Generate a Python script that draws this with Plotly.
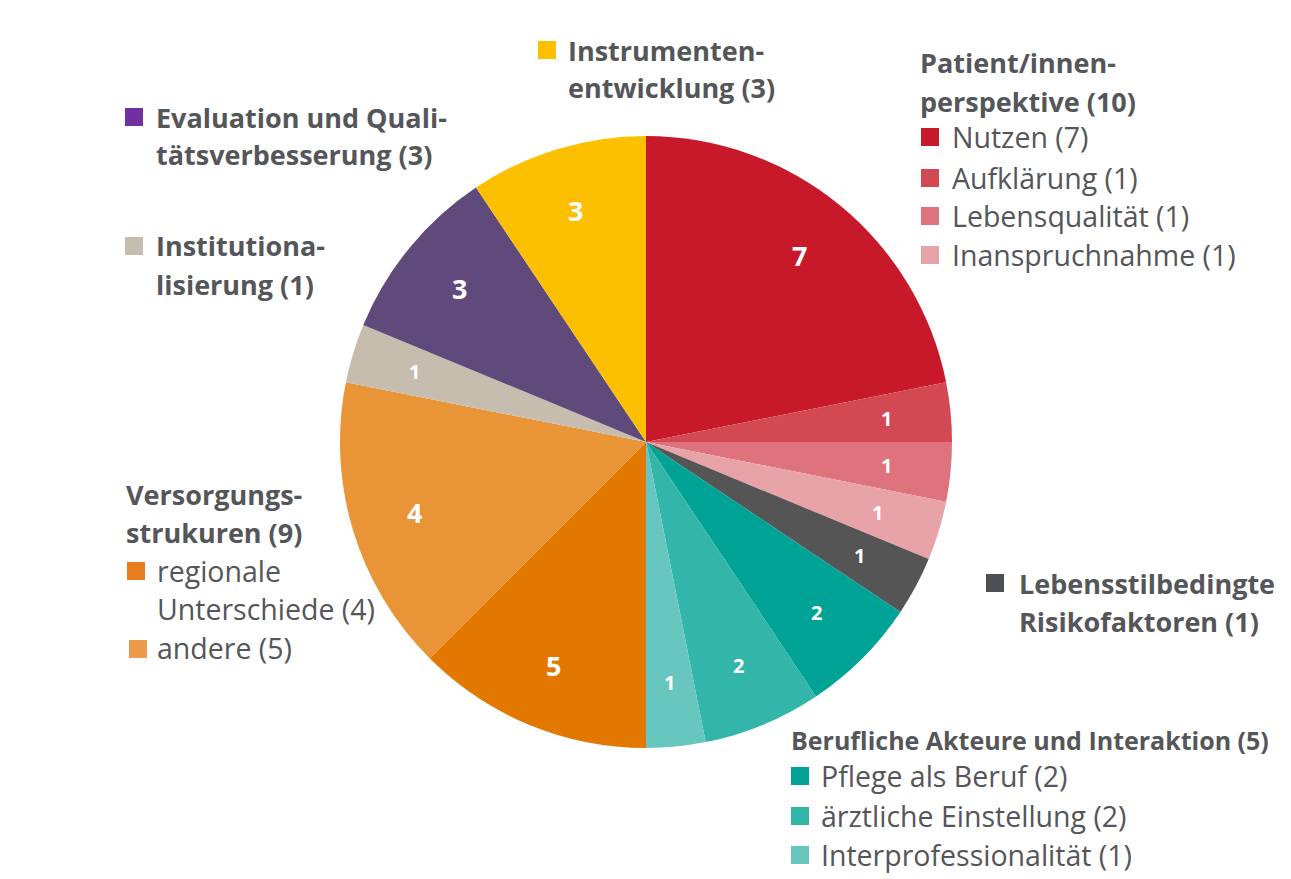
import math
import plotly.graph_objects as go

# ---------------- data ----------------
categories = ["Nutzen", "Aufklärung", "Lebensqualität", "Inanspruchnahme",
              "Lebensstilbedingte Risikofaktoren", "Pflege als Beruf",
              "ärztliche Einstellung", "Interprofessionalität",
              "regionale Unterschiede", "andere", "Institutionalisierung",
              "Evaluation und Qualitätsverbesserung", "Instrumentenentwicklung"]
values = [7, 1, 1, 1, 1, 2, 2, 1, 4, 5, 1, 3, 3]
slice_text = ["7", "1", "1", "1", "1", "2", "2", "1", "5", "4", "1", "3", "3"]
slice_colors = ["#C8192A", "#D24954", "#DE737E", "#E8A3A9", "#555555", "#00A396",
                "#33B5AA", "#67C6BD", "#E37800", "#E99437", "#C6BDAE", "#5F4A7B", "#FDC000"]

TXT = "#55565A"
FONT = "Open Sans"
BOLD_SIZE = 27
REG_SIZE = 28.5
W, H = 1291, 879
OFF = 8  # page body margin of the html page
CX, CY, R = 646, 442, 306


def xp(x):
    return (x - OFF) / W


def yp(y):
    return 1 - (y - OFF) / H


fig = go.Figure()
fig.add_trace(go.Pie(
    labels=categories, values=values,
    textinfo="none",
    marker=dict(colors=slice_colors, line=dict(width=0)),
    sort=False, direction="clockwise", rotation=0,
    showlegend=False, hoverinfo="label+value",
    domain=dict(x=[xp(CX - R), xp(CX + R)], y=[yp(CY + R), yp(CY - R)]),
))

annotations = []
shapes = []

# slice value labels, placed at the middle angle of each slice
total = sum(values)
cum = 0
for v, t in zip(values, slice_text):
    mid = (cum + v / 2) / total * 2 * math.pi
    cum += v
    rr = 0.79 * R
    lx = CX + rr * math.sin(mid)
    ly = CY - rr * math.cos(mid)
    annotations.append(dict(
        x=xp(lx), y=yp(ly), xref="paper", yref="paper", xanchor="center", yanchor="middle",
        text=f"<b>{t}</b>", showarrow=False,
        font=dict(family=FONT, size=20 if t in ("1", "2") else 27, color="white")))


def text(x, y, s, bold=False, size=None):
    if size is None:
        size = BOLD_SIZE if bold else REG_SIZE
    annotations.append(dict(
        x=xp(x), y=yp(y), xref="paper", yref="paper", xanchor="left", yanchor="middle",
        text=f"<b>{s}</b>" if bold else s, showarrow=False,
        font=dict(family=FONT, size=size, color=TXT)))


def square(x, y, color, s=18):
    shapes.append(dict(type="rect", xref="paper", yref="paper",
                       x0=xp(x), x1=xp(x + s), y0=yp(y + s / 2), y1=yp(y - s / 2),
                       fillcolor=color, line=dict(width=0)))


# Instrumentenentwicklung
square(538, 50, "#FDC000")
text(566, 50, "Instrumenten-", True)
text(566, 88, "entwicklung (3)", True)

# Patient/innen-perspektive
text(918, 62, "Patient/innen-", True)
text(918, 101, "perspektive (10)", True)
for yy, c, s in [(137, "#C8192A", "Nutzen (7)"), (178, "#D24954", "Aufklärung (1)"),
                 (216, "#DE737E", "Lebensqualität (1)"), (255, "#E8A3A9", "Inanspruchnahme (1)")]:
    square(921, yy, c)
    text(950, yy, s)

# Evaluation
square(125, 117, "#7030A0")
text(154, 117, "Evaluation und Quali-", True)
text(154, 154, "tätsverbesserung (3)", True)

# Institutionalisierung
square(125, 246, "#C6BDAE")
text(154, 246, "Institutiona-", True)
text(154, 285, "lisierung (1)", True)

# Versorgungsstrukturen
text(124, 494, "Versorgungs-", True)
text(124, 532, "strukuren (9)", True)
square(127, 571, "#E87D1E")
text(155, 571, "regionale")
text(155, 609, "Unterschiede (4)")
square(129, 649, "#EE9A4C")
text(155, 648, "andere (5)")

# Lebensstil
square(986, 583, "#4E4F54")
text(1017, 583, "Lebensstilbedingte", True)
text(1017, 621, "Risikofaktoren (1)", True)

# Berufliche Akteure
text(789, 740, "Berufliche Akteure und Interaktion (5)", True, size=25)
for yy, c, s in [(776, "#00A396", "Pflege als Beruf (2)"), (816, "#33B5AA", "ärztliche Einstellung (2)"),
                 (855, "#67C6BD", "Interprofessionalität (1)")]:
    square(791, yy, c)
    text(819, yy, s)

fig.update_layout(
    width=W, height=H, margin=dict(l=0, r=0, t=0, b=0),
    paper_bgcolor="white", plot_bgcolor="white",
    annotations=annotations, shapes=shapes,
    font=dict(family=FONT, color=TXT),
)
fig.write_html("out.html")
